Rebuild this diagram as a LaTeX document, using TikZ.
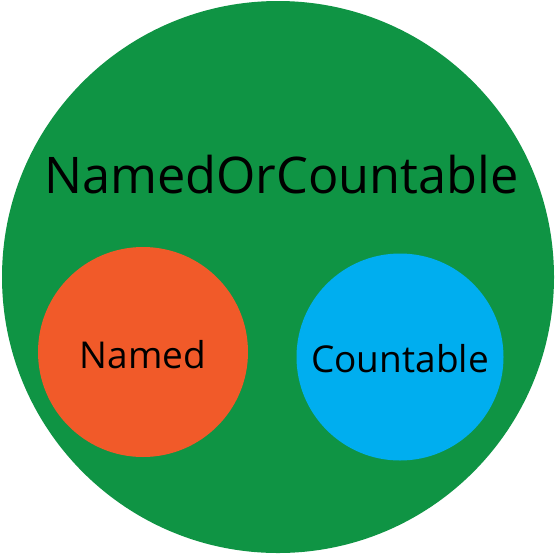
\documentclass[tikz,border=0pt]{standalone}
\usepackage{fontspec}
\setmainfont{Open Sans}
\definecolor{gr}{HTML}{0F9444}
\definecolor{orn}{HTML}{F15A29}
\definecolor{blu}{HTML}{00AEEF}
\begin{document}
\begin{tikzpicture}[x=1pt,y=-1pt,
  setc/.style={circle,inner sep=0pt,draw=none}]
\useasboundingbox (0,0) rectangle (556,555);
\node[setc,fill=gr,minimum size=552pt] (outer) at (278,277) {};
\node[font=\fontsize{50.5}{60}\selectfont] (outerlbl) at (281.5,175) {NamedOrCountable};
\node[setc,fill=orn,minimum size=210pt] (named) at (143,352) {};
\node[font=\fontsize{37}{44}\selectfont] (namedlbl) at (143,355) {Named};
\node[setc,fill=blu,minimum size=207pt] (count) at (400,357) {};
\node[font=\fontsize{37}{44}\selectfont] (countlbl) at (400,359) {Countable};
\end{tikzpicture}
\end{document}
